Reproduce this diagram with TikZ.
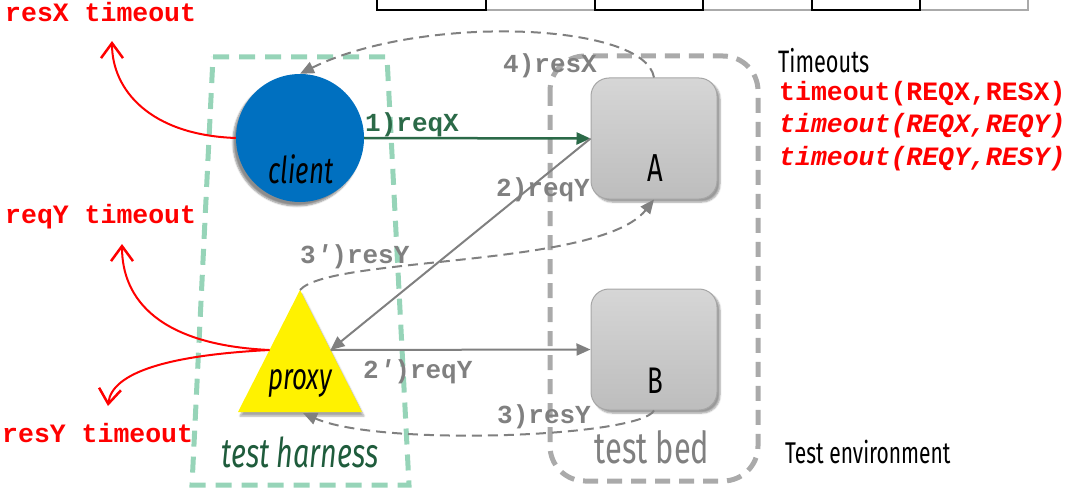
\documentclass[tikz,border=0pt]{standalone}
\usepackage{fontspec}
\setmonofont{Liberation Mono}
\newfontfamily\cond[FakeStretch=0.7]{Fira Sans}
\usetikzlibrary{arrows.meta,shadows.blur}

\definecolor{clientblue}{HTML}{0070C0}
\definecolor{harness}{HTML}{96D4B8}
\definecolor{harnesstext}{HTML}{1F5C3C}
\definecolor{bedgray}{HTML}{AAAAAA}
\definecolor{msggray}{HTML}{808080}
\definecolor{reqgreen}{HTML}{2B6A48}
\definecolor{boxtop}{HTML}{D6D6D6}
\definecolor{boxbot}{HTML}{BDBDBD}
\definecolor{boxedge}{HTML}{A6A6A6}

% slanted prime for the derived messages
\newcommand{\primemark}{{\itshape'}}

\tikzset{
  mono/.style={font=\ttfamily\bfseries\fontsize{26}{28}\selectfont, inner sep=0pt, anchor=base west},
  msg/.style={mono, text=msggray},
  redlab/.style={mono, text=red, font=\ttfamily\bfseries\fontsize{26.5}{28}\selectfont},
  condtext/.style={inner sep=0pt, anchor=base},
  flow/.style={draw=msggray, line width=2pt, -{Triangle[length=14pt,width=12pt]}},
  reply/.style={flow, dash pattern=on 10pt off 6pt},
  timeout/.style={draw=red, line width=2pt, -{Straight Barb[length=15pt,width=22pt,line width=2.5pt]}},
  server/.style={rounded corners=18pt, draw=boxedge, line width=1pt,
    top color=boxtop, bottom color=boxbot, minimum width=126pt, minimum height=121pt,
    blur shadow={shadow xshift=3pt, shadow yshift=-3pt, shadow blur steps=6, shadow opacity=40}},
  stripbox/.style={line width=2pt},
}

\begin{document}
\begin{tikzpicture}[x=1pt, y=-1pt]
\useasboundingbox (0,0) rectangle (1071,492);

% strip of boxes along the top edge
\begin{scope}
\clip (0,0) rectangle (1071,492);
\draw[stripbox, draw=bedgray] (486,-5) |- (1028,10) -- (1028,-5);
\foreach \xa/\xb in {377/486, 595/703, 812/920}
  \draw[stripbox, black] (\xa,-5) rectangle (\xb,10);
\end{scope}

% enclosures
\draw[draw=harness, line width=5pt, dash pattern=on 16pt off 10pt]
  (213,57) -- (387,57) -- (409,485) -- (192,485) -- cycle;
\draw[draw=bedgray, line width=5pt, dash pattern=on 15pt off 9pt, rounded corners=35pt]
  (550,56) rectangle (758,481);

% participants
\node[circle, fill=clientblue, minimum size=128pt, inner sep=0pt,
  blur shadow={shadow xshift=-3pt, shadow yshift=-4pt, shadow blur steps=6, shadow opacity=45}]
  (client) at (300,138) {};
\node[condtext, font=\cond\itshape\fontsize{37}{40}\selectfont] (clientlabel) at (301,183) {client};

\path[fill=yellow, blur shadow={shadow xshift=2pt, shadow yshift=-4pt, shadow blur steps=6, shadow opacity=35}]
  (300,290) -- (362,412) -- (238,412) -- cycle;
\coordinate (proxytop) at (300,290);
\coordinate (proxyright) at (330.5,350);
\coordinate (proxyleft) at (269.5,350);
\coordinate (proxybase) at (303,413);
\node[condtext, font=\cond\itshape\fontsize{37}{40}\selectfont] (proxylabel) at (300,389) {proxy};

\node[server] (A) at (654,138.5) {};
\node[server] (B) at (654,349.5) {};
\node[condtext, font=\cond\fontsize{39}{42}\selectfont] (Alabel) at (655,182) {A};
\node[condtext, font=\cond\fontsize{37}{40}\selectfont] (Blabel) at (655,393) {B};

% enclosure captions
\node[condtext, text=harnesstext, font=\cond\itshape\fontsize{41}{44}\selectfont] (harnesslabel) at (300,467) {test harness};
\node[condtext, text=msggray, font=\cond\fontsize{44}{48}\selectfont] (bedlabel) at (652,463) {test bed};
\node[condtext, anchor=base west, text depth=0pt, font=\cond\fontsize{31}{36}\selectfont] (timeoutshead) at (778,73) {Timeouts};
\node[condtext, anchor=base west, font=\cond\fontsize{30}{34}\selectfont] (envlabel) at (785,463) {Test environment};

% timeout list
\node[redlab] (t1) at (779,101) {timeout(REQX,RESX)};
\node[redlab, font=\ttfamily\bfseries\itshape\fontsize{26.5}{28}\selectfont] (t2) at (779,133) {timeout(REQX,REQY)};
\node[redlab, font=\ttfamily\bfseries\itshape\fontsize{26.5}{28}\selectfont] (t3) at (779,165) {timeout(REQY,RESY)};

% messages
\draw[flow, draw=reqgreen, line width=2.5pt] (client.east) -- (A.west);
\draw[flow] (A.west) -- (proxyright);
\draw[flow] (proxyright) -- (B.west);
\draw[reply] (B.south) .. controls (640,437) and (380,447) .. (proxybase);
\draw[reply] (proxytop) .. controls (330,256) and (600,268) .. (A.south);
\draw[reply] (A.north) .. controls (645,22) and (420,14) .. (client.north);

\node[msg, text=reqgreen] (m1) at (365,132) {1)reqX};
\node[msg] (m2) at (496,196) {2)reqY};
\node[msg] (m2b) at (363,378) {2\primemark)reqY};
\node[msg] (m3) at (497,423) {3)resY};
\node[msg] (m3b) at (300,263) {3\primemark)resY};
\node[msg] (m4) at (503,73) {4)resX};

% timeout escapes
\coordinate (resXend) at (112,41);
\coordinate (reqYend) at (122,244);
\coordinate (resYend) at (108,406);
\draw[timeout] (client.west) .. controls (150,135) and (112,90) .. (resXend);
\draw[timeout] (proxyleft) .. controls (160,345) and (122,300) .. (reqYend);
\draw[timeout] (proxyleft) .. controls (170,355) and (112,372) .. (resYend);

\node[redlab] (l1) at (5,22) {resX timeout};
\node[redlab] (l2) at (5,223) {reqY timeout};
\node[redlab] (l3) at (2,442) {resY timeout};
\end{tikzpicture}
\end{document}
